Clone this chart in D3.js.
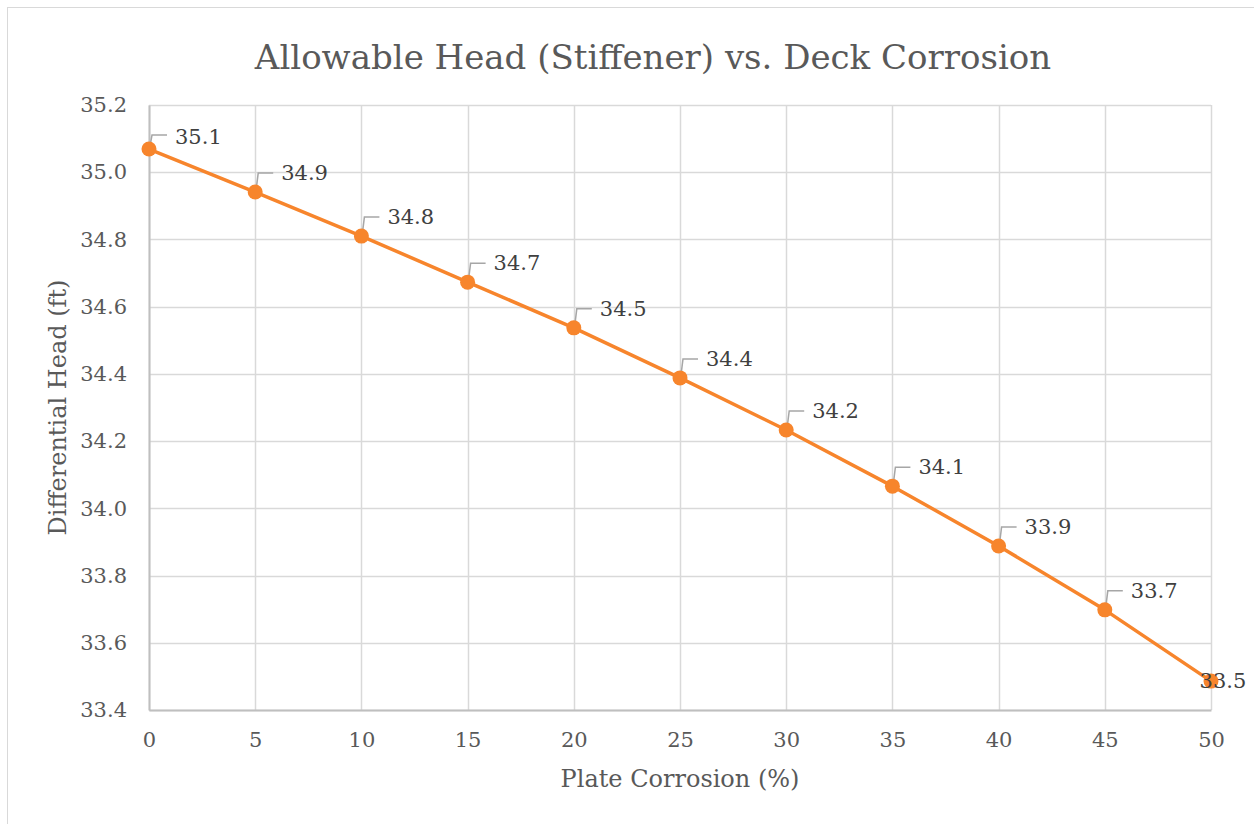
<!DOCTYPE html>
<html>
<head>
<meta charset="utf-8">
<script src="https://cdn.jsdelivr.net/npm/d3@7"></script>
<style>
  body { margin: 0; background: #fff; }
  text { font-family: "DejaVu Serif", "Liberation Serif", serif; }
</style>
</head>
<body>
<svg></svg>
<script>
// chart data
var corrosion = [0, 5, 10, 15, 20, 25, 30, 35, 40, 45, 50];
var head = [35.069, 34.941, 34.810, 34.673, 34.537, 34.388, 34.233, 34.066, 33.888, 33.698, 33.486];
var xTicks = [0, 5, 10, 15, 20, 25, 30, 35, 40, 45, 50];
var yTicks = [33.4, 33.6, 33.8, 34.0, 34.2, 34.4, 34.6, 34.8, 35.0, 35.2];

var svgWidth = 1254, svgHeight = 824;
var margin = { top: 105, right: 43, bottom: 114, left: 149 };
var width = svgWidth - margin.left - margin.right;
var height = svgHeight - margin.top - margin.bottom;

var svg = d3.select('svg')
    .attr("width", svgWidth)
    .attr("height", svgHeight);

// outer chart border
svg.append("rect")
    .attr("x", 7.5).attr("y", 7.5)
    .attr("width", svgWidth).attr("height", svgHeight)
    .attr("fill", "#fff")
    .attr("stroke", "#d9d9d9");

var g = svg.append("g")
    .attr("transform", "translate(" + margin.left + "," + margin.top + ")");

var x = d3.scaleLinear().domain([0, 50]).range([0, width]);
var y = d3.scaleLinear().domain([33.4, 35.2]).range([height, 0]);

// gridlines
g.append("g").selectAll("line").data(yTicks).enter().append("line")
    .attr("x1", 0).attr("x2", width)
    .attr("y1", function(d) { return Math.round(y(d)) + 0.5; })
    .attr("y2", function(d) { return Math.round(y(d)) + 0.5; })
    .attr("stroke", "#d9d9d9").attr("stroke-width", 1.5);

g.append("g").selectAll("line").data(xTicks).enter().append("line")
    .attr("y1", 0).attr("y2", height)
    .attr("x1", function(d) { return Math.round(x(d)) + 0.5; })
    .attr("x2", function(d) { return Math.round(x(d)) + 0.5; })
    .attr("stroke", "#d9d9d9").attr("stroke-width", 1.5);

// axes
var xAxis = g.append("g")
    .attr("transform", "translate(0," + height + ")")
    .call(d3.axisBottom(x).tickValues(xTicks).tickSize(0).tickPadding(22).tickFormat(d3.format("d")));
xAxis.select(".domain").attr("stroke", "#bfbfbf").attr("stroke-width", 2);
xAxis.selectAll("text").attr("fill", "#595959").style("font-size", "21px");

var yAxis = g.append("g")
    .call(d3.axisLeft(y).tickValues(yTicks).tickSize(0).tickPadding(22).tickFormat(d3.format(".1f")));
yAxis.select(".domain").attr("stroke", "#bfbfbf").attr("stroke-width", 2);
yAxis.selectAll("text").attr("fill", "#595959").style("font-size", "21px");

// line
var line = d3.line()
    .x(function(d, i) { return x(corrosion[i]); })
    .y(function(d) { return y(d); });

g.append("path")
    .datum(head)
    .attr("fill", "none")
    .attr("stroke", "#f7852c")
    .attr("stroke-width", 3.5)
    .attr("stroke-linejoin", "round")
    .attr("d", line);

// leader lines (not for the last point)
g.append("g").selectAll("path").data(head.slice(0, -1)).enter().append("path")
    .attr("fill", "none")
    .attr("stroke", "#a6a6a6")
    .attr("stroke-width", 1.5)
    .attr("d", function(d, i) {
        var px = x(corrosion[i]), py = y(d);
        var ly = i === 0 ? py - 14 : py - 19;
        return "M" + (px + 1) + "," + (py - 3) + "L" + (px + 3) + "," + ly + "L" + (px + 18) + "," + ly;
    });

// markers
g.append("g").selectAll("circle").data(head).enter().append("circle")
    .attr("cx", function(d, i) { return x(corrosion[i]); })
    .attr("cy", function(d) { return y(d); })
    .attr("r", 7.5)
    .attr("fill", "#f7852c");

// data labels
g.append("g").selectAll("text").data(head).enter().append("text")
    .attr("x", function(d, i) { return i === head.length - 1 ? x(corrosion[i]) + 12 : x(corrosion[i]) + 26; })
    .attr("y", function(d, i) {
        if (i === head.length - 1) return y(d) + 7;
        return i === 0 ? y(d) - 5 : y(d) - 12;
    })
    .attr("text-anchor", function(d, i) { return i === head.length - 1 ? "middle" : "start"; })
    .attr("fill", "#404040")
    .style("font-size", "21px")
    .text(function(d) { return d3.format(".1f")(d); });

// title
svg.append("text")
    .attr("x", 653)
    .attr("y", 69)
    .attr("text-anchor", "middle")
    .attr("fill", "#595959")
    .style("font-size", "34px")
    .text("Allowable Head (Stiffener) vs. Deck Corrosion");

// axis titles
svg.append("text")
    .attr("x", 680)
    .attr("y", 787)
    .attr("text-anchor", "middle")
    .attr("fill", "#595959")
    .style("font-size", "24px")
    .text("Plate Corrosion (%)");

svg.append("text")
    .attr("transform", "translate(66," + (margin.top + height / 2) + ") rotate(-90)")
    .attr("text-anchor", "middle")
    .attr("fill", "#595959")
    .style("font-size", "24px")
    .text("Differential Head (ft)");
</script>
</body>
</html>
